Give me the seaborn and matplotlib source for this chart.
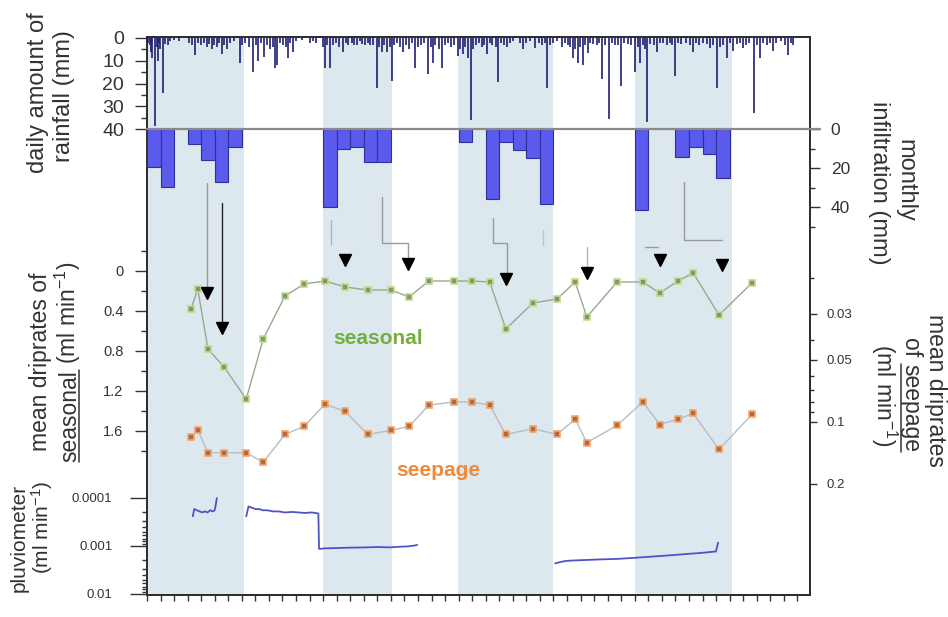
import numpy as np
import pandas as pd
import matplotlib
matplotlib.use("Agg")
import matplotlib.pyplot as plt
import seaborn as sns
from matplotlib.ticker import FixedLocator, NullFormatter
from matplotlib.transforms import IdentityTransform
from matplotlib.lines import Line2D

# ---------------------------------------------------------------- data
DAYS_PER_MONTH = 30.44
record_months = 48.93

# daily rainfall: day of record, amount (mm)
rain_day = [3, 6, 8, 12, 18, 22, 25, 28, 30, 36, 41, 47, 52, 60, 71, 95, 101, 108, 115, 122,
            128, 135, 140, 146, 151, 157, 162, 168, 173, 180, 186, 195, 209, 214, 221, 230, 238,
            244, 249, 256, 263, 270, 276, 282, 288, 292, 298, 305, 312, 317, 322, 328, 335, 348,
            366, 372, 380, 395, 400, 405, 411, 418, 425, 432, 440, 446, 452, 460, 466, 472, 478,
            484, 490, 496, 502, 508, 517, 522, 528, 533, 539, 545, 550, 556, 562, 569, 575, 581,
            588, 596, 602, 609, 615, 622, 631, 637, 642, 648, 655, 663, 670, 676, 684, 690, 699,
            704, 710, 715, 721, 728, 733, 740, 746, 752, 758, 764, 770, 776, 783, 789, 795, 802,
            809, 815, 822, 838, 845, 852, 860, 872, 880, 887, 893, 899, 905, 912, 920, 932, 940,
            946, 951, 957, 962, 968, 973, 979, 985, 991, 996, 1003, 1010, 1016, 1022, 1028, 1038,
            1044, 1051, 1057, 1065, 1072, 1080, 1088, 1096, 1102, 1108, 1114, 1118, 1123, 1130,
            1138, 1146, 1152, 1160, 1168, 1175, 1180, 1186, 1193, 1200, 1210, 1219, 1227, 1234,
            1240, 1250, 1258, 1265, 1272, 1281, 1288, 1295, 1303, 1310, 1317, 1325, 1332, 1339,
            1346, 1352, 1364, 1370, 1377, 1384, 1392, 1400, 1406, 1414, 1425, 1434, 1440, 1446,
            1451]
rain_mm = [2, 3, 6, 9, 38.7, 4, 10, 2, 5, 24, 2.5, 3, 1.5, 1, 1.5, 2, 3, 7.5, 2, 3,
           2, 4, 2.5, 5, 3, 4, 2, 7, 3, 5, 2, 1.5, 11, 3, 2, 4, 15,
           3, 10, 2, 8.5, 3, 5, 4, 13, 12, 2, 3, 4, 9, 2, 6, 1.5, 1,
           2, 1.5, 2, 4, 13, 3, 13, 3, 2, 4, 6, 2, 3, 2, 3, 3, 1.5,
           2.5, 3, 2, 3, 3, 22, 4, 6, 3, 6, 4, 19, 3, 2, 4, 6, 3,
           5, 2, 13, 4, 3, 2, 16, 4, 11, 3, 5, 13, 3, 2, 4, 3, 8,
           5, 7, 4, 9, 36, 5, 3, 2, 4, 3, 7, 2, 3, 4, 19.5, 2, 3,
           4, 2, 1.5, 2, 5, 2, 1.5, 4.5, 2, 3, 2, 22, 3, 2, 1.5, 4, 2,
           3, 4, 9, 5, 11, 4, 12, 3, 6.5, 2, 2.5, 3, 2, 18, 3, 35.5,
           2, 3, 3, 21, 2, 2.5, 3, 15, 4, 11, 3, 5, 37, 2.5,
           3, 6, 2, 2, 3, 2, 3, 16.5, 2, 2.5, 2, 3, 6, 2,
           3, 2, 2.5, 4.5, 3, 22, 4, 3, 9, 2, 5.5, 2.5, 2, 4.5,
           3, 2, 33, 3, 9, 2, 3, 2, 5.5, 2, 1.5, 3, 7.5, 2,
           3]

# monthly infiltration: month index, amount (mm)
infil_month = [0, 1, 3, 4, 5, 6, 13, 14, 15, 16, 17, 23, 25, 26, 27, 28, 29, 36, 39, 40, 41, 42]
infil_mm = [19.5, 29.7, 7.5, 15.8, 27, 9, 40, 10, 9, 17, 17, 6.7, 36, 6.5, 11, 15, 38.5,
            41.5, 14.5, 9, 13, 25]

# shaded seasons (month from / month to)
season_start = [0.0, 13.0, 22.95, 36.0]
season_end = [7.15, 18.1, 29.95, 43.15]

# drip sampling dates (day of record) and mean drip rates (ml/min)
drip_day = [99, 114, 137, 173, 223, 261, 310, 353, 400, 445, 496, 548, 589, 633, 690, 730,
            770, 806, 867, 921, 962, 988, 1056, 1114, 1152, 1193, 1227, 1285, 1359]
seasonal_rate = [0.38, 0.18, 0.78, 0.96, 1.28, 0.68, 0.25, 0.13, 0.10, 0.16, 0.19, 0.19,
                 0.26, 0.10, 0.10, 0.10, 0.11, 0.58, 0.32, 0.28, 0.11, 0.46, 0.11, 0.11,
                 0.22, 0.10, 0.02, 0.44, 0.12]
seepage_rate = [0.119, 0.109, 0.141, 0.141, 0.141, 0.157, 0.115, 0.105, 0.082, 0.089, 0.115,
                0.110, 0.105, 0.083, 0.080, 0.080, 0.083, 0.115, 0.108, 0.115, 0.097, 0.126,
                0.104, 0.080, 0.103, 0.097, 0.091, 0.136, 0.092]

# pluviometer record: day of record, rate (ml/min), logger run
pluv_day = [103, 106, 112, 118, 124, 130, 136, 142, 148, 152, 155, 157,
            223, 228, 236, 244, 252, 260, 270, 282, 295, 310, 325, 340, 355, 370, 385, 386.5,
            400, 430, 460, 490, 520, 545, 565, 585, 600, 607,
            917, 925, 940, 960, 990, 1020, 1060, 1100, 1140, 1180, 1220, 1250, 1278, 1283]
pluv_rate = [2.4e-4, 1.7e-4, 1.8e-4, 1.9e-4, 2.0e-4, 1.9e-4, 2.0e-4, 1.8e-4, 1.9e-4, 1.8e-4,
             1.3e-4, 1.0e-4,
             2.4e-4, 1.5e-4, 1.6e-4, 1.7e-4, 1.7e-4, 1.8e-4, 1.8e-4, 1.9e-4, 1.9e-4, 2.0e-4,
             1.95e-4, 2.0e-4, 2.05e-4, 2.0e-4, 2.1e-4, 1.15e-3, 1.12e-3, 1.10e-3, 1.08e-3,
             1.07e-3, 1.05e-3, 1.07e-3, 1.04e-3, 1.02e-3, 9.8e-4, 9.5e-4,
             2.3e-3, 2.2e-3, 2.05e-3, 2.0e-3, 1.95e-3, 1.9e-3, 1.85e-3, 1.75e-3, 1.65e-3,
             1.55e-3, 1.45e-3, 1.38e-3, 1.3e-3, 8.5e-4]
pluv_run = [1] * 12 + [2] * 26 + [3] * 14

# infiltration-pulse arrows (month, level on the seasonal axis)
arrow_month = [4.43, 5.54, 14.61, 19.26, 26.49, 32.47, 37.86, 42.44]
arrow_level = [0.22, 0.57, -0.11, -0.07, 0.08, 0.02, -0.11, -0.06]

# guide lines from the infiltration bars towards the arrows
guide_paths = [
    ([4.43, 4.43], [-0.88, 0.17], "#9a9a9a"),
    ([5.54, 5.54], [-0.68, 0.52], "#222222"),
    ([13.58, 13.58], [-0.51, -0.26], "#b4b4b4"),
    ([17.34, 17.34, 19.26, 19.26], [-0.74, -0.28, -0.28, -0.13], "#9a9a9a"),
    ([25.54, 25.54, 26.57, 26.57], [-0.53, -0.28, -0.28, 0.02], "#9a9a9a"),
    ([29.23, 29.23], [-0.41, -0.26], "#c4c4c4"),
    ([32.47, 32.47], [-0.24, -0.04], "#b4b4b4"),
    ([36.75, 37.71], [-0.24, -0.24], "#9a9a9a"),
    ([39.63, 39.63, 42.44], [-0.89, -0.31, -0.31], "#9a9a9a"),
]

# ---------------------------------------------------------------- style
sns.set_theme(style="ticks")
plt.rcParams["font.family"] = ["Liberation Sans", "DejaVu Sans"]
plt.rcParams["mathtext.fontset"] = "custom"
plt.rcParams["mathtext.rm"] = "Liberation Sans"
plt.rcParams["mathtext.it"] = "Liberation Sans:italic"
plt.rcParams["mathtext.bf"] = "Liberation Sans:bold"

TXT = "#333333"
BAND = "#dce8ee"
W, H = 948, 617
FL, FT, FR, FB = 147, 37, 810, 595          # frame in pixels (left, top, right, bottom)
PIX = IdentityTransform()


def lin_limits(v0, y0, v1, y1):
    """Axis limits (bottom, top) so that v0 sits at pixel row y0 and v1 at y1."""
    k = (v1 - v0) / (y1 - y0)
    return v0 + (FB - y0) * k, v0 + (FT - y0) * k


def log_limits(v0, y0, v1, y1):
    a, b = lin_limits(np.log10(v0), y0, np.log10(v1), y1)
    return 10 ** a, 10 ** b


fig = plt.figure(figsize=(W / 100, H / 100), dpi=100, facecolor="white")
rect = [FL / W, 1 - FB / H, (FR - FL) / W, (FB - FT) / H]

# base axes: seasons, time ticks and frame
ax = fig.add_axes(rect)
ax.set_xlim(0, record_months)
ax.set_ylim(0, 1)
for s0, s1 in zip(season_start, season_end):
    ax.axvspan(s0, s1, color=BAND, lw=0, zorder=0)
ax.set_yticks([])
ax.xaxis.set_major_locator(FixedLocator(np.arange(0, 49)))
ax.tick_params(axis="x", which="major", direction="out", length=4.5, width=1,
               color=TXT, labelbottom=False)
for sp in ax.spines.values():
    sp.set_visible(True)
    sp.set_color("#2a2a2a")
    sp.set_linewidth(1.4)


def overlay(side):
    o = fig.add_axes(rect, sharex=ax)
    o.patch.set_visible(False)
    for sp in o.spines.values():
        sp.set_visible(False)
    o.tick_params(axis="x", which="both", bottom=False, top=False,
                  labelbottom=False, labeltop=False)
    if side == "right":
        o.yaxis.set_ticks_position("right")
    else:
        o.yaxis.set_ticks_position("left")
    return o


# ---- daily rainfall
ax_rain = overlay("left")
rain_month = np.asarray(rain_day) / DAYS_PER_MONTH
ax_rain.vlines(rain_month, 0, rain_mm, color="#1f1f6e", lw=1.2)
ax_rain.set_ylim(*lin_limits(0, 38, 40, 129))
ax_rain.set_yticks([0, 10, 20, 30, 40])
ax_rain.yaxis.set_minor_locator(FixedLocator([5, 15, 25, 35]))
ax_rain.tick_params(axis="y", which="major", length=8.5, width=1, color=TXT,
                    labelsize=14, labelcolor=TXT, pad=8)
ax_rain.tick_params(axis="y", which="minor", length=4.5, width=1, color=TXT)

# ---- monthly infiltration
ax_inf = overlay("right")
ax_inf.bar(np.asarray(infil_month) + 0.5, infil_mm, width=1.0, color="#5a5aec",
           edgecolor="#30309a", lw=0.8)
ax_inf.plot([0, record_months + 0.75], [0, 0], color="#8a8a8a", lw=1.6, clip_on=False)
ax_inf.set_ylim(*lin_limits(0, 129, 40, 207))
ax_inf.set_yticks([0, 20, 40])
ax_inf.yaxis.set_minor_locator(FixedLocator([10, 30, 50]))
ax_inf.tick_params(axis="y", which="major", length=7, width=1, color=TXT,
                   labelsize=12.5, labelcolor=TXT, pad=8)
ax_inf.tick_params(axis="y", which="minor", length=3.5, width=1, color=TXT)

# ---- seasonal drip rates
ax_sea = overlay("left")
for xs, ys, col in guide_paths:
    ax_sea.plot(xs, ys, color=col, lw=1.0)
drips = pd.DataFrame({"month": np.asarray(drip_day) / DAYS_PER_MONTH,
                      "seasonal": seasonal_rate, "seepage": seepage_rate})
sns.lineplot(data=drips, x="month", y="seasonal", ax=ax_sea, estimator=None, sort=False,
             color="#9aa88c", lw=1.0, marker="s", markersize=5,
             markerfacecolor="#86966a", markeredgecolor="#bddc8c", markeredgewidth=1.2)
ax_sea.plot(arrow_month, arrow_level, linestyle="none", marker="v", color="black",
            markersize=9)
ax_sea.set_ylim(*lin_limits(0, 271, 1.6, 431))
ax_sea.set_yticks([0, 0.4, 0.8, 1.2, 1.6], labels=["0", "0.4", "0.8", "1.2", "1.6"])
ax_sea.yaxis.set_minor_locator(FixedLocator([-0.2, 0.2, 0.6, 1.0, 1.4, 1.8]))
ax_sea.tick_params(axis="y", which="major", length=9, width=1, color=TXT,
                   labelsize=10.5, labelcolor=TXT, pad=8)
ax_sea.tick_params(axis="y", which="minor", length=4.5, width=1, color=TXT)
ax_sea.set_xlabel("")
ax_sea.set_ylabel("")

# ---- seepage drip rates (log)
ax_seep = overlay("right")
ax_seep.set_yscale("log")
sns.lineplot(data=drips, x="month", y="seepage", ax=ax_seep, estimator=None, sort=False,
             color="#b8bcc4", lw=1.0, marker="s", markersize=5,
             markerfacecolor="#b06a44", markeredgecolor="#f4a66c", markeredgewidth=1.2)
ax_seep.set_ylim(*log_limits(0.03, 314, 0.2, 484))
ax_seep.yaxis.set_major_locator(FixedLocator([0.03, 0.05, 0.1, 0.2]))
ax_seep.set_yticklabels(["0.03", "0.05", "0.1", "0.2"])
ax_seep.yaxis.set_minor_locator(FixedLocator([0.02, 0.04, 0.06, 0.07, 0.08, 0.09]))
ax_seep.yaxis.set_minor_formatter(NullFormatter())
ax_seep.tick_params(axis="y", which="major", length=5, width=1, color=TXT,
                    labelsize=9.5, labelcolor=TXT, pad=7)
ax_seep.tick_params(axis="y", which="minor", length=3, width=1, color=TXT)
ax_seep.set_xlabel("")
ax_seep.set_ylabel("")

# ---- pluviometer (log)
ax_pl = overlay("left")
ax_pl.set_yscale("log")
pluv = pd.DataFrame({"month": np.asarray(pluv_day) / DAYS_PER_MONTH,
                     "rate": pluv_rate, "run": pluv_run})
sns.lineplot(data=pluv, x="month", y="rate", units="run", estimator=None, sort=False,
             ax=ax_pl, color="#5252c8", lw=1.3)
ax_pl.set_ylim(*log_limits(1e-4, 498, 1e-2, 594))
ax_pl.yaxis.set_major_locator(FixedLocator([1e-4, 1e-3, 1e-2]))
ax_pl.set_yticklabels(["0.0001", "0.001", "0.01"])
minor_pl = [m * 10.0 ** e for e in (-4, -3) for m in range(2, 10)]
ax_pl.yaxis.set_minor_locator(FixedLocator(minor_pl))
ax_pl.yaxis.set_minor_formatter(NullFormatter())
ax_pl.tick_params(axis="y", which="major", length=12, width=1, color=TXT,
                  labelsize=9.5, labelcolor=TXT, pad=13)
ax_pl.tick_params(axis="y", which="minor", length=3.5, width=1, color=TXT)
ax_pl.set_xlabel("")
ax_pl.set_ylabel("")

ax.set_xlim(0, record_months)

# ---------------------------------------------------------------- labels
renderer = fig.canvas.get_renderer()


def label_line(parts, xc, yc, rot, size):
    """One rotated label line centred at pixel (xc, yc); parts are (text, underlined)."""
    em = size * fig.dpi / 72
    widths = []
    for s, _ in parts:
        t = fig.text(0, 0, s, fontsize=size, transform=PIX)
        widths.append(t.get_window_extent(renderer).width)
        t.remove()
    gap = 0.28 * em
    total = sum(widths) + gap * (len(parts) - 1)
    sign = 1 if rot == 90 else -1
    xb = xc + sign * 0.26 * em
    pos = (H - yc) - sign * total / 2
    for (s, ul), w in zip(parts, widths):
        fig.text(xb, pos, s, rotation=rot, rotation_mode="anchor", ha="left",
                 va="baseline", fontsize=size, color=TXT, transform=PIX)
        if ul:
            ux = xb + sign * 0.12 * em
            fig.add_artist(Line2D([ux, ux], [pos, pos + sign * w], transform=PIX,
                                  color=TXT, lw=1.1))
        pos += sign * (w + gap)


unit = "(ml min$^{-1}$)"
label_line([("daily amount of", False)], 38, 93, 90, 17)
label_line([("rainfall (mm)", False)], 64, 96, 90, 17)
label_line([("mean driprates of", False)], 41, 362, 90, 16.5)
label_line([("seasonal", True), (unit, False)], 70, 362, 90, 16.5)
label_line([("pluviometer", False)], 19, 538, 90, 15)
label_line([(unit, False)], 43, 527, 90, 15)
label_line([("monthly", False)], 906, 180, 270, 17)
label_line([("infiltration (mm)", False)], 879, 183, 270, 17)
label_line([("mean driprates", False)], 935, 390, 270, 16.5)
label_line([("of", False), ("seepage", True)], 910, 395, 270, 16.5)
label_line([(unit, False)], 882, 395, 270, 16.5)

fig.text(378, H - 338, "seasonal", transform=PIX, ha="center", va="center",
         fontsize=15, fontweight="bold", color="#74ae3e")
fig.text(438, H - 470, "seepage", transform=PIX, ha="center", va="center",
         fontsize=15, fontweight="bold", color="#f08a3a")

fig.savefig("out.png", dpi=100, facecolor="white")
